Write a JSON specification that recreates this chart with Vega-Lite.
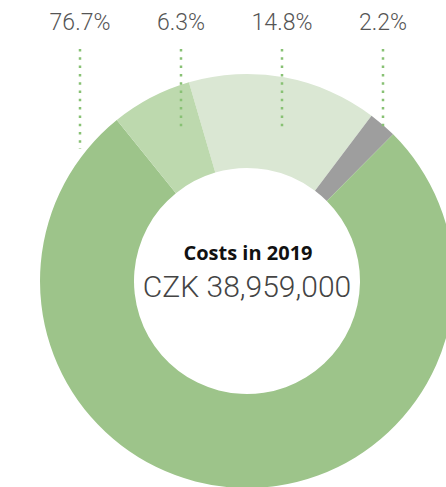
{
  "$schema": "https://vega.github.io/schema/vega-lite/v6.json",
  "width": 446,
  "height": 487,
  "autosize": {"type": "fit", "contains": "padding"},
  "padding": 0,
  "background": "white",
  "config": {"view": {"stroke": null}},
  "datasets": {
    "costs": [
      {"segment": "A", "share": 14.8, "label": "14.8%", "order": 1},
      {"segment": "B", "share": 2.2, "label": "2.2%", "order": 2},
      {"segment": "C", "share": 76.7, "label": "76.7%", "order": 3},
      {"segment": "D", "share": 6.3, "label": "6.3%", "order": 4}
    ],
    "center": [
      {"title": "Costs in 2019", "amount": "CZK 38,959,000"}
    ]
  },
  "layer": [
    {
      "data": {"name": "costs"},
      "mark": {"type": "arc", "innerRadius": 113, "outerRadius": 207, "x": 247, "y": 281},
      "encoding": {
        "theta": {"field": "share", "type": "quantitative", "scale": {"range": [-0.2845, 5.9987]}},
        "order": {"field": "order", "type": "quantitative"},
        "color": {
          "field": "segment", "type": "nominal", "legend": null,
          "scale": {"domain": ["A", "B", "C", "D"], "range": ["#dae7d3", "#9e9e9e", "#9dc48a", "#bdd9ae"]}
        }
      }
    },
    {
      "data": {"name": "costs"},
      "transform": [{"filter": "datum.share < 50"}],
      "mark": {"type": "rule", "color": "#88c174", "strokeWidth": 2.5, "strokeDash": [2.5, 5.8]},
      "encoding": {
        "x": {"field": "label", "type": "ordinal", "axis": null, "scale": {"type": "point", "padding": 0, "domain": ["76.7%", "6.3%", "14.8%", "2.2%"], "range": [80, 383]}},
        "y": {"value": 49},
        "y2": {"value": 131}
      }
    },
    {
      "data": {"name": "costs"},
      "transform": [{"filter": "datum.share >= 50"}],
      "mark": {"type": "rule", "color": "#88c174", "strokeWidth": 2.5, "strokeDash": [2.5, 5.8]},
      "encoding": {
        "x": {"field": "label", "type": "ordinal", "axis": null, "scale": {"type": "point", "padding": 0, "domain": ["76.7%", "6.3%", "14.8%", "2.2%"], "range": [80, 383]}},
        "y": {"value": 49},
        "y2": {"value": 149}
      }
    },
    {
      "data": {"name": "costs"},
      "mark": {"type": "text", "font": "Roboto", "fontWeight": 300, "fontSize": 23, "color": "#555555", "baseline": "alphabetic", "align": "center"},
      "encoding": {
        "x": {"field": "label", "type": "ordinal", "axis": null, "scale": {"type": "point", "padding": 0, "domain": ["76.7%", "6.3%", "14.8%", "2.2%"], "range": [80, 383]}},
        "y": {"value": 30},
        "text": {"field": "label"}
      }
    },
    {
      "data": {"name": "center"},
      "mark": {"type": "text", "font": "Open Sans", "fontWeight": "bold", "fontSize": 20, "color": "#111111", "baseline": "alphabetic", "align": "center", "x": 248, "y": 260},
      "encoding": {"text": {"field": "title"}}
    },
    {
      "data": {"name": "center"},
      "mark": {"type": "text", "font": "Roboto", "fontWeight": 300, "fontSize": 30, "color": "#444444", "baseline": "alphabetic", "align": "center", "x": 247, "y": 297},
      "encoding": {"text": {"field": "amount"}}
    }
  ]
}
